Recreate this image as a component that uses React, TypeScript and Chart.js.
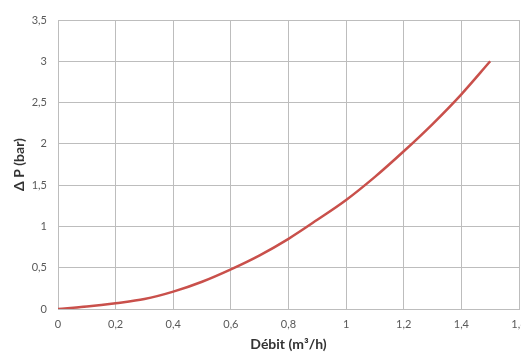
import React, { useEffect, useRef } from "react";
import { Chart, registerables } from "chart.js";

Chart.register(...registerables);

const flowRates = [0, 0.1, 0.2, 0.3, 0.4, 0.5, 0.6, 0.7, 0.8, 0.9, 1.0, 1.1, 1.2, 1.3, 1.4, 1.5];
const pressureDrop = [0, 0.03, 0.07, 0.12, 0.21, 0.33, 0.48, 0.65, 0.85, 1.08, 1.32, 1.6, 1.91, 2.24, 2.6, 3.0];
const xTitle = "Débit (m³/h)";
const yTitle = "Δ P (bar)";

const fmt = (v: number | string) => String(Math.round(Number(v) * 10) / 10).replace(".", ",");

export default function App() {
  const ref = useRef<HTMLCanvasElement | null>(null);
  useEffect(() => {
    if (!ref.current) return;
    const grid = "#bdbdbd";
    const tickFont = { family: "Lato", size: 11 };
    const titleFont = { family: "Lato", size: 14, weight: "bold" };
    const chart = new Chart(ref.current, {
      type: "line",
      data: {
        datasets: [
          {
            data: flowRates.map((x, i) => ({ x, y: pressureDrop[i] })),
            borderColor: "#c9504b",
            borderWidth: 2.5,
            pointRadius: 0,
            cubicInterpolationMode: "monotone",
            fill: false,
          },
        ],
      },
      options: {
        animation: false,
        responsive: false,
        maintainAspectRatio: false,
        plugins: { legend: { display: false }, tooltip: { enabled: false } },
        layout: { padding: { left: 0, top: 20, right: 21, bottom: 0 } },
        scales: {
          x: {
            type: "linear",
            min: 0,
            max: 1.6,
            grid: { color: grid, drawTicks: false, lineWidth: 1 },
            border: { color: grid },
            ticks: { stepSize: 0.2, padding: 9, color: "#595959", font: tickFont, callback: (v) => fmt(v), maxRotation: 0 },
            title: { display: true, text: xTitle, color: "#333333", font: titleFont, padding: { top: 0, bottom: 1 } },
            afterFit: (s: any) => { s.height = 45; },
          },
          y: {
            min: 0,
            max: 3.5,
            grid: { color: grid, drawTicks: false, lineWidth: 1 },
            border: { color: grid },
            ticks: { stepSize: 0.5, padding: 11, color: "#595959", font: tickFont, callback: (v) => fmt(v) },
            title: { display: true, text: yTitle, color: "#333333", font: titleFont, padding: { top: 11, bottom: 0 } },
            afterFit: (s: any) => { s.width = 58; },
          },
        },
      },
    } as any);
    return () => chart.destroy();
  }, []);
  return (
    <div style={{ position: "fixed", left: 0, top: 0, width: 521, height: 354, overflow: "hidden", background: "#fff" }}>
      <canvas ref={ref} width={540} height={354} style={{ display: "block", width: 540, height: 354 }} />
    </div>
  );
}
